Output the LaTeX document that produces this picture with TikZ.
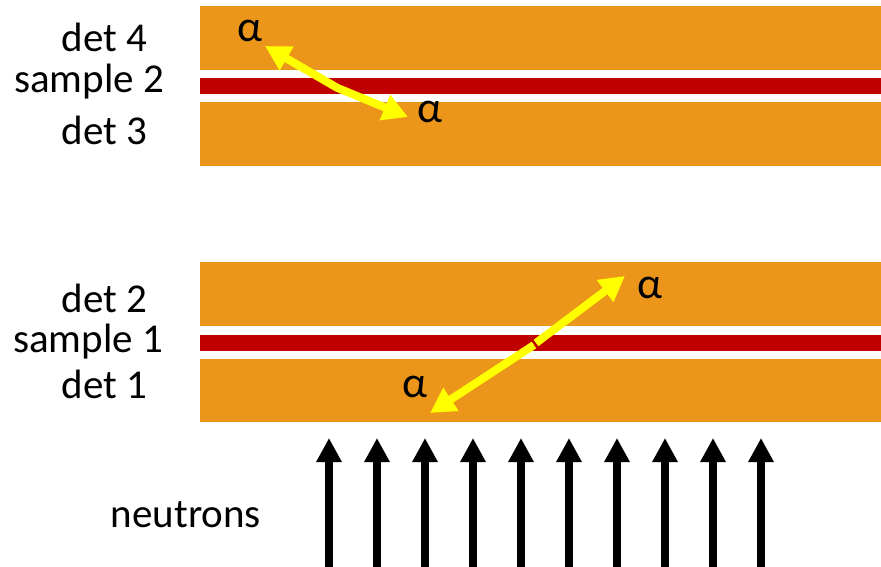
\documentclass[tikz,border=0pt]{standalone}
\usepackage{fontspec}
\setmainfont{Carlito}
\usetikzlibrary{arrows.meta}
\definecolor{detorange}{RGB}{235,150,26}
\definecolor{samplered}{RGB}{192,0,0}
\definecolor{alphayellow}{RGB}{255,255,0}
\tikzset{
  detector/.style={fill=detorange, draw=none},
  samplefoil/.style={fill=samplered, draw=none},
  label/.style={font=\fontsize{41}{41}\selectfont, inner sep=0pt, anchor=base},
  alphalabel/.style={font=\fontsize{44}{44}\selectfont, inner sep=0pt, anchor=base},
  alphatrack/.style={draw=alphayellow, line width=8pt,
    -{Triangle[length=25pt,width=26pt]}},
  neutronbeam/.style={draw=black, line width=8pt,
    -{Triangle[length=24pt,width=24pt]}}
}
\begin{document}
\begin{tikzpicture}[x=1pt,y=-1pt]
\useasboundingbox (0,0) rectangle (881,567);

% upper stack: det 4, sample 2, det 3
\path[detector]   (200,6)   rectangle (881,70);
\path[samplefoil] (200,78)  rectangle (881,94);
\path[detector]   (200,102) rectangle (881,166);

% lower stack: det 2, sample 1, det 1
\path[detector]   (200,262) rectangle (881,326);
\path[samplefoil] (200,335) rectangle (881,351);
\path[detector]   (200,359) rectangle (881,422);

% stack labels
\node[label] (d4) at (104.5,52)  {det 4};
\node[label] (s2) at (89,93)     {sample 2};
\node[label] (d3) at (104.5,145) {det 3};
\node[label] (d2) at (104.5,312) {det 2};
\node[label] (s1) at (88,352)    {sample 1};
\node[label] (d1) at (104.5,398) {det 1};
\node[label] (nl) at (186,527)   {neutrons};

% alpha tracks leaving the samples
\coordinate (ua) at (337.2,87.8);
\coordinate (ub) at (336.6,87.6);
\coordinate (utip1) at (265,46);
\coordinate (utip2) at (408,117);
\draw[alphatrack] (ua) -- (utip1);
\draw[alphatrack] (ub) -- (utip2);

\coordinate (la) at (534,345);
\coordinate (lb) at (536,343);
\coordinate (ltip1) at (430,413);
\coordinate (ltip2) at (625,276);
\draw[alphatrack] (la) -- (ltip1);
\draw[alphatrack] (lb) -- (ltip2);

% alpha labels
\node[alphalabel] (a1) at (250,42)  {α};
\node[alphalabel] (a2) at (430,123) {α};
\node[alphalabel] (a3) at (650,298) {α};
\node[alphalabel] (a4) at (415,397) {α};

% incoming neutron beam
\foreach \i in {0,...,9}{
  \coordinate (nb\i) at ({329+48*\i},567);
  \coordinate (nt\i) at ({329+48*\i},438);
  \draw[neutronbeam] (nb\i) -- (nt\i);
}
\end{tikzpicture}
\end{document}
